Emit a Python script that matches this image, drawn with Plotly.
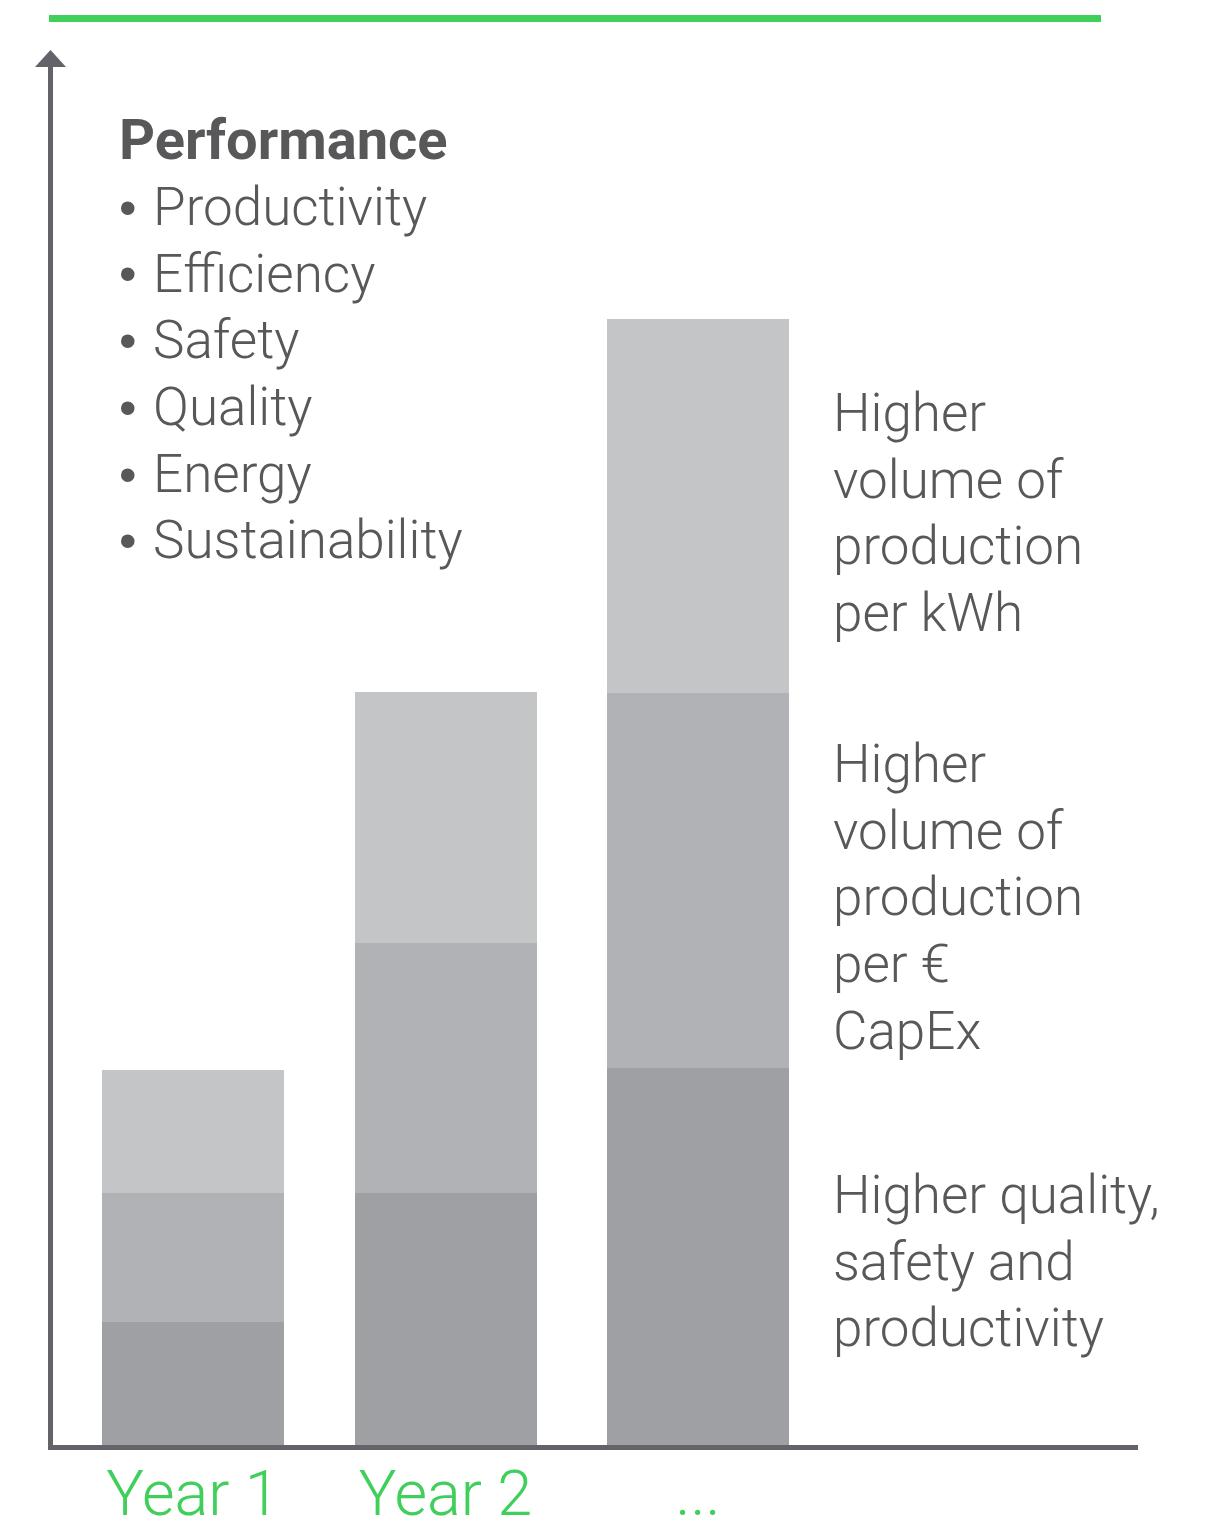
import plotly.graph_objects as go

# ---- data ----
categories = ["Year 1", "Year 2", "..."]
quality_safety_productivity = [0.98, 2.01, 3.01]   # bottom segment
production_per_capex = [1.03, 2.0, 2.99]           # middle segment
production_per_kwh = [0.98, 2.0, 2.99]             # top segment

series_names = [
    "Higher quality, safety and productivity",
    "Higher volume of production per € CapEx",
    "Higher volume of production per kWh",
]
series_colors = ["#9fa0a4", "#b1b2b5", "#c4c5c7"]

performance_title = "Performance"
performance_items = ["Productivity", "Efficiency", "Safety", "Quality", "Energy", "Sustainability"]
label_kwh = ["Higher", "volume of", "production", "per kWh"]
label_capex = ["Higher", "volume of", "production", "per €", "CapEx"]
label_quality = ["Higher quality,", "safety and", "productivity"]

# ---- layout geometry (pixels) ----
W_FIG, H_FIG = 1219, 1533
L, R, T, B = 53, 81, 66, 88
PW = W_FIG - L - R
PH = H_FIG - T - B
PITCH = 252.5
X0 = 140          # px offset of first bar centre inside plot
PX_PER_UNIT = 125.3
LINE_STEP = 66.7

TEXT = "#58585a"
GREEN = "#3fcf5a"
AXIS = "#636369"
FONT = "Roboto"
FS = 53
FS_BOLD = 56
ASC = 0.928        # Roboto ascent (em)


def px(x):
    return (x - L) / PW


def py(y):
    return (H_FIG - B - y) / PH


def line_ann(text, x, baseline, size=FS, weight=300, family=FONT, asc=ASC, xanchor="left"):
    return dict(text=text, x=px(x), y=py(baseline - asc * size - 1), xref="paper", yref="paper",
                xanchor=xanchor, yanchor="top", align="left", showarrow=False,
                font=dict(size=size, color=TEXT, family=family, weight=weight))


fig = go.Figure()
for name, vals, col in zip(series_names,
                           [quality_safety_productivity, production_per_capex, production_per_kwh],
                           series_colors):
    fig.add_trace(go.Bar(x=categories, y=vals, name=name, marker=dict(color=col, line=dict(width=0)),
                         width=182 / PITCH, showlegend=False, hoverinfo="name+y"))

annotations = [line_ann("<b>" + performance_title + "</b>", 117, 158, size=FS_BOLD, weight=700)]
for i, item in enumerate(performance_items):
    base = 224 + i * LINE_STEP
    annotations.append(line_ann("•", 128, base, size=50, weight=400, family="Liberation Sans",
                                asc=0.905, xanchor="center"))
    annotations.append(line_ann(item, 151, base))
for lines, first_base in [(label_kwh, 430), (label_capex, 781), (label_quality, 1212)]:
    for i, line in enumerate(lines):
        annotations.append(line_ann(line, 831, first_base + i * LINE_STEP))

shapes = [
    dict(type="line", xref="paper", yref="paper", x0=px(49), x1=px(1101), y0=py(18.5), y1=py(18.5),
         line=dict(color=GREEN, width=7)),
    dict(type="path", xref="paper", yref="paper",
         path=f"M {px(35)} {py(67)} L {px(50.5)} {py(50)} L {px(66)} {py(67)} Z",
         fillcolor=AXIS, line=dict(width=0)),
]

fig.update_layout(
    width=W_FIG, height=H_FIG,
    margin=dict(l=L, r=R, t=T, b=B, autoexpand=False),
    barmode="stack", bargap=0,
    plot_bgcolor="white", paper_bgcolor="white",
    font=dict(family=FONT, color=TEXT),
    annotations=annotations, shapes=shapes,
    xaxis=dict(range=[-X0 / PITCH, (PW - X0) / PITCH], showgrid=False, zeroline=False,
               showline=True, linecolor=AXIS, linewidth=5, ticks="", automargin=False,
               ticklabelstandoff=-11,
               tickfont=dict(size=63, color=GREEN, family=FONT, weight=300)),
    yaxis=dict(range=[0, PH / PX_PER_UNIT], showgrid=False, zeroline=False, showline=True,
               linecolor=AXIS, linewidth=5, showticklabels=False, ticks="", automargin=False),
)

fig.write_html("out.html", config={"displayModeBar": False},
               post_script="document.body.style.margin='0';document.body.style.overflow='hidden';")
